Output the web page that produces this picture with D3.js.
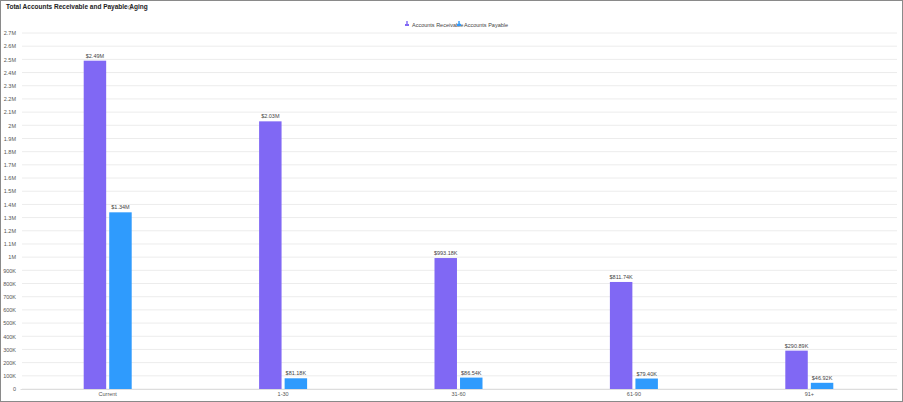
<!DOCTYPE html>
<meta charset="utf-8">
<title>Total Accounts Receivable and Payable Aging</title>
<style>
body { margin: 0; background: white; font-family: 'Liberation Sans', Arial, sans-serif; }
#frame { position: absolute; left: 0; top: 0; width: 901px; height: 400px; border: 1px solid #8a8a8a; }
.tick text { fill: #555; font-size: 5.5px; }
.grid line { stroke: #ececec; }
.lbl { font-size: 5.5px; fill: #444; text-anchor: middle; }
</style>
<script src="https://cdn.jsdelivr.net/npm/d3@7"></script>
<div id="frame"></div>
<svg id="chart" width="903" height="402" style="position:absolute;left:0;top:0"></svg>
<script>(function() {
  var categories = ["Current", "1-30", "31-60", "61-90", "91+"];
  var receivable = [2490000, 2030000, 993180, 811740, 290890];
  var payable = [1340000, 81180, 86540, 79400, 46920];
  var receivableLabels = ["$2.49M", "$2.03M", "$993.18K", "$811.74K", "$290.89K"];
  var payableLabels = ["$1.34M", "$81.18K", "$86.54K", "$79.40K", "$46.92K"];
  var series = ["Accounts Receivable", "Accounts Payable"];
  var colors = ["#8068f4", "#2f9bfd"];

  var svg = d3.select("#chart");
  var margin = {left: 20, right: 6, top: 33, bottom: 13};
  var W = 903, H = 402;

  var x = d3.scaleBand().domain(categories).range([20, 897]).paddingInner(0).paddingOuter(0);
  var x1 = d3.scaleBand().domain(series).range([0, 48]).paddingInner(0.12);
  var y = d3.scaleLinear().domain([0, 2700000]).range([389, 33]);

  svg.append("text").attr("x", 6).attr("y", 9).attr("font-size", 6.5)
    .attr("font-weight", "bold").attr("fill", "#222")
    .text("Total Accounts Receivable and Payable Aging");
  svg.append("circle").attr("cx", 130).attr("cy", 7.5).attr("r", 2)
    .attr("fill", "none").attr("stroke", "#777").attr("stroke-width", 0.6);

  var ticks = d3.range(0, 2700001, 100000);
  function fmt(v) {
    if (v === 0) return "0";
    if (v >= 1000000) return d3.format(".1f")(v / 1e6).replace(/\.0$/, "") + "M";
    return (v / 1000) + "K";
  }

  svg.append("g").attr("class", "grid")
    .selectAll("line").data(ticks).join("line")
    .attr("x1", 22).attr("x2", 897)
    .attr("y1", function(d) { return y(d); }).attr("y2", function(d) { return y(d); });

  var ya = svg.append("g").attr("transform", "translate(18,0)")
    .call(d3.axisLeft(y).tickValues(ticks).tickFormat(fmt).tickSize(0).tickPadding(2));
  ya.select(".domain").remove();

  var xa = svg.append("g").attr("transform", "translate(0,389)")
    .call(d3.axisBottom(x).tickSize(0).tickPadding(3));
  xa.select(".domain").attr("stroke", "#ddd");

  var g = svg.append("g");
  categories.forEach(function(c, i) {
    var vals = [receivable[i], payable[i]];
    var labs = [receivableLabels[i], payableLabels[i]];
    var x0 = x(c) + x.bandwidth() / 2 - 24;
    series.forEach(function(s, j) {
      g.append("rect").attr("x", x0 + x1(s)).attr("y", y(vals[j]))
        .attr("width", x1.bandwidth()).attr("height", y(0) - y(vals[j]))
        .attr("fill", colors[j]);
      g.append("text").attr("class", "lbl")
        .attr("x", x0 + x1(s) + x1.bandwidth() / 2).attr("y", y(vals[j]) - 3)
        .text(labs[j]);
    });
  });

  var leg = svg.append("g").attr("transform", "translate(405,25)");
  var lx = [0, 52];
  series.forEach(function(s, j) {
    var l = leg.append("g").attr("transform", "translate(" + lx[j] + ",0)");
    l.append("rect").attr("x", 0).attr("y", -1).attr("width", 4).attr("height", 2).attr("fill", colors[j]);
    l.append("rect").attr("x", 1.3).attr("y", -4).attr("width", 1.4).attr("height", 4).attr("fill", colors[j]);
    l.append("text").attr("x", 7).attr("y", 1.5).attr("font-size", 5.5).attr("fill", "#444").text(s);
  });
})()</script>
